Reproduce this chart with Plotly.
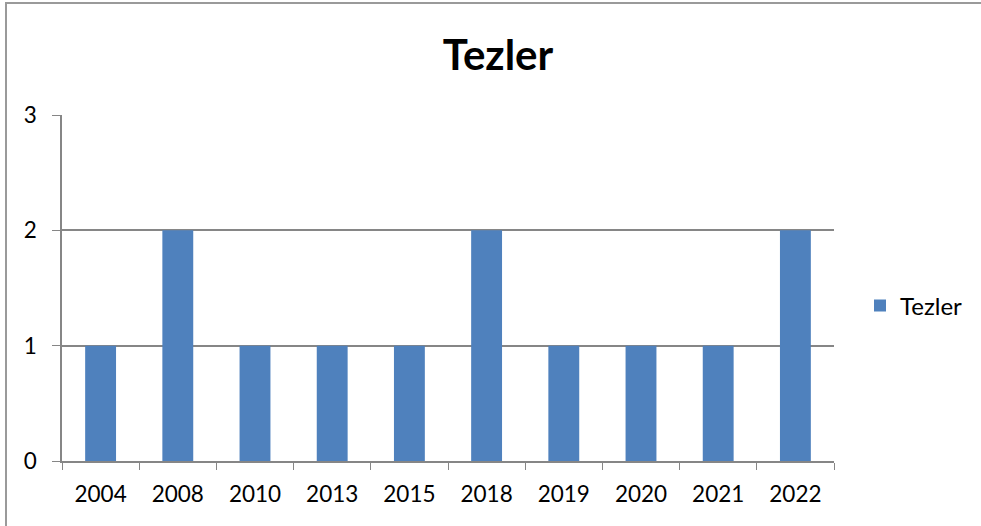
import plotly.graph_objects as go

years = ["2004", "2008", "2010", "2013", "2015", "2018", "2019", "2020", "2021", "2022"]
counts = [1, 2, 1, 1, 1, 2, 1, 1, 1, 2]
series_name = "Tezler"
title_text = "Tezler"
y_ticks = [0, 1, 2, 3]

W, H = 981, 526
L, R, T, B = 62, 147, 115, 65
pw, ph = W - L - R, H - T - B

def px_x(x):
    return (x - L) / pw

def px_y(y):
    return (H - B - y) / ph

FONT = "Lato"
GRAY = "#868686"

fig = go.Figure()
fig.add_trace(go.Bar(x=years, y=counts, name=series_name, marker_color="#4F81BD",
                     marker_line_width=0, showlegend=True))

fig.update_layout(
    width=W, height=H,
    margin=dict(l=L, r=R, t=T, b=B, autoexpand=False),
    paper_bgcolor="white", plot_bgcolor="white",
    bargap=0.6,
    font=dict(family=FONT, size=22, color="black"),
    title=dict(text="<b>" + title_text + "</b>", x=498 / W,
               xanchor="center", y=1 - 55 / H, yanchor="middle",
               font=dict(family=FONT, size=42, color="black")),
    showlegend=True,
    legend=dict(x=px_x(860), y=px_y(306), xanchor="left", yanchor="middle",
                font=dict(family=FONT, size=24), bgcolor="rgba(0,0,0,0)"),
    xaxis=dict(type="category", tickson="boundaries", ticks="outside", ticklen=7,
               tickcolor=GRAY, showline=True, linecolor=GRAY, linewidth=1.5,
               showgrid=False, tickfont=dict(family=FONT, size=22.5),
               ticklabelstandoff=12),
    yaxis=dict(range=[0, 3], tickvals=y_ticks, ticks="outside", ticklen=8,
               tickcolor=GRAY, showline=True, linecolor=GRAY, linewidth=1.5,
               showgrid=True, gridcolor=GRAY, gridwidth=1.5, zeroline=False,
               ticklabelstandoff=11, tickfont=dict(family=FONT, size=22.5)),
    shapes=[
        dict(type="rect", xref="paper", yref="paper",
             x0=px_x(6), x1=px_x(W + 10), y0=px_y(H + 10), y1=px_y(3),
             line=dict(color="#9a9a9a", width=2), fillcolor="rgba(0,0,0,0)", layer="below"),
    ],
)

fig.write_html("out.html", config={"displayModeBar": False},
               post_script="document.body.style.margin='0';document.body.style.overflow='hidden';")
